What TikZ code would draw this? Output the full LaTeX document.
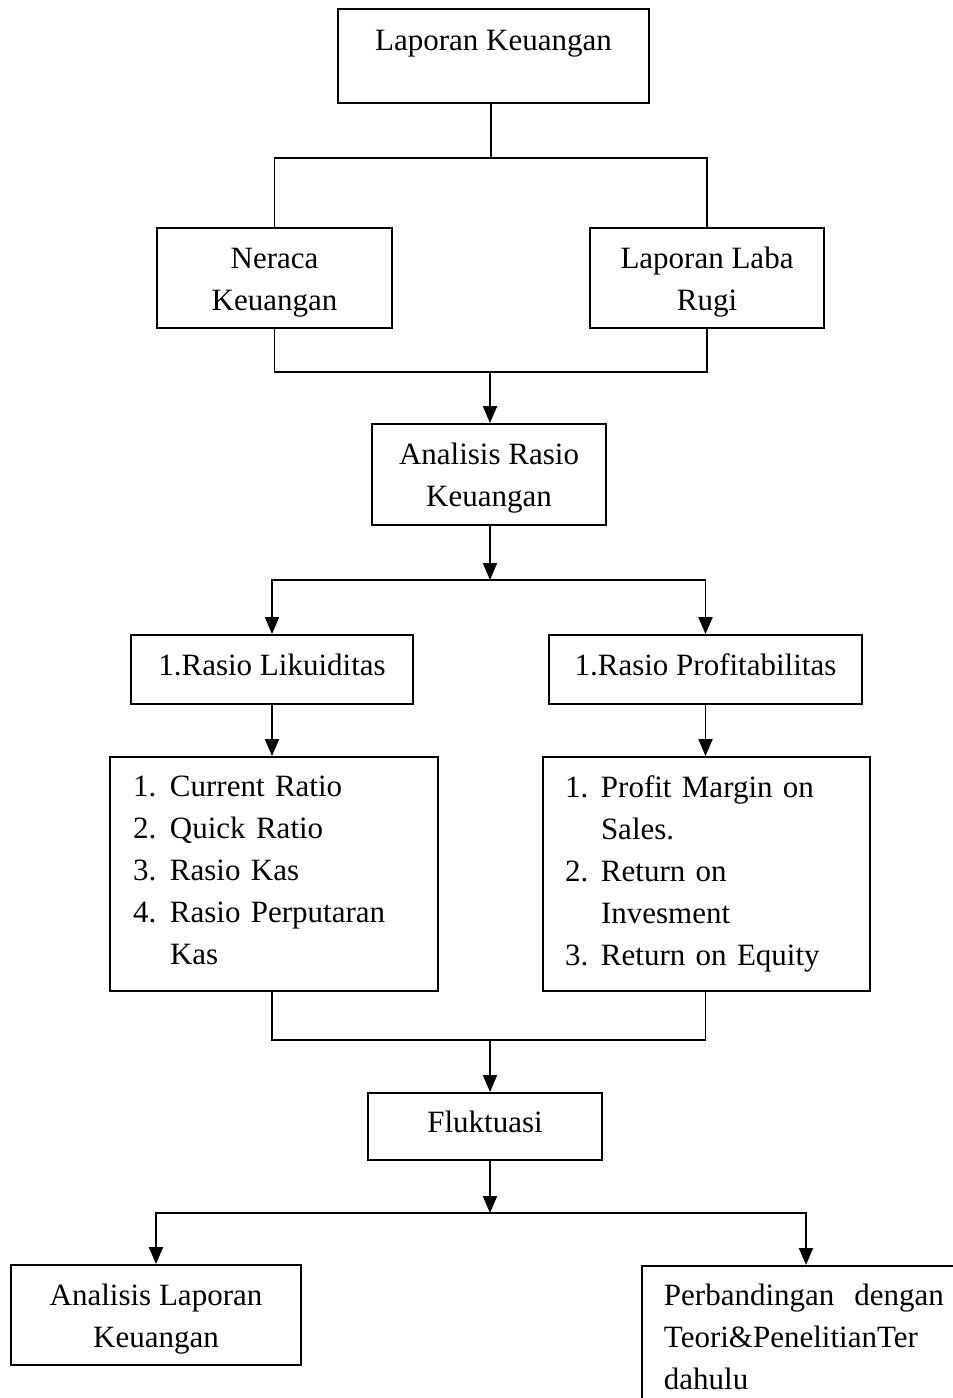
\documentclass[tikz,border=0pt]{standalone}
\usepackage{fontspec}
\setmainfont{Liberation Serif}
\usetikzlibrary{arrows.meta}
\newcommand{\toppad}{\rule{0pt}{29pt}}
\begin{document}
\begin{tikzpicture}[x=1pt,y=-1pt,
  box/.style={draw, line width=1.9pt, inner sep=0pt, align=center, font=\fontsize{31}{42}\selectfont},
  oneline/.style={text height=21pt, text depth=10pt},
  ln/.style={line width=1.9pt},
  arr/.style={ln, -{Triangle[width=14pt,length=17pt]}}]
\useasboundingbox (0,0) rectangle (953,1398);
\clip (0,0) rectangle (953,1398);
% nodes
\node[box, minimum width=311pt, minimum height=94pt, text height=22pt, text depth=34pt] (lk) at (493.5,56) {Laporan Keuangan};
\node[box, minimum width=235pt, minimum height=100pt] (ner) at (274.5,278) {\toppad Neraca\\Keuangan};
\node[box, minimum width=234pt, minimum height=100pt] (lab) at (707,278) {\toppad Laporan Laba\\Rugi};
\node[box, minimum width=234pt, minimum height=101pt] (ana) at (489,474.5) {\toppad Analisis Rasio\\Keuangan};
\node[box, oneline, minimum width=282pt, minimum height=69pt] (liq) at (272,669.5) {1.Rasio Likuiditas};
\node[box, oneline, minimum width=313pt, minimum height=69pt] (pro) at (705.5,669.5) {1.Rasio Profitabilitas};
\node[box, minimum height=234pt, text width=282pt, inner xsep=23pt, align=left] (ll) at (274,874)
  {\makebox[37pt][l]{1.}Current Ratio\\
   \makebox[37pt][l]{2.}Quick Ratio\\
   \makebox[37pt][l]{3.}Rasio Kas\\
   \makebox[37pt][l]{4.}Rasio Perputaran\\
   \hspace*{37pt}Kas\rule[-7pt]{0pt}{1pt}};
\node[box, minimum height=234pt, text width=283pt, inner xsep=22pt, align=left] (lr) at (706.5,874)
  {\makebox[36pt][l]{1.}Profit Margin on\\
   \hspace*{36pt}Sales.\\
   \makebox[36pt][l]{2.}Return on\\
   \hspace*{36pt}Invesment\\
   \makebox[36pt][l]{3.}Return on Equity};
\node[box, oneline, minimum width=234pt, minimum height=67pt] (fl) at (485,1126.5) {Fluktuasi};
\node[box, minimum width=290pt, minimum height=100pt] (al) at (156,1315) {\toppad Analisis Laporan\\Keuangan};
\node[box, anchor=north west, text width=280pt, inner xsep=22pt, inner ysep=18pt, align=left] (pb) at (641,1265)
  {\hbox to 280pt{Perbandingan\hfill dengan}\\Teori\&PenelitianTer\\dahulu};
% junction coordinates
\coordinate (s1) at (491,158);
\coordinate (m1) at (490,372);
\coordinate (s2) at (490,580);
\coordinate (m2) at (490,1040);
\coordinate (s3) at (490,1213);
\coordinate (pbin) at ([xshift=165pt]pb.north west);
% connectors
\draw[ln] (lk.south -| s1) -- (s1);
\draw[ln] (ner.north) |- (s1) -| (lab.north);
\draw[ln] (ner.south) |- (m1) -| (lab.south);
\draw[arr] (m1) -- (m1 |- ana.north);
\draw[arr] (ana.south -| s2) -- (s2);
\draw[arr] (s2) -| (liq.north);
\draw[arr] (s2) -| (pro.north);
\draw[arr] (liq.south) -- (liq.south |- ll.north);
\draw[arr] (pro.south) -- (pro.south |- lr.north);
\draw[ln] (ll.south -| liq.south) |- (m2) -| (lr.south -| pro.south);
\draw[arr] (m2) -- (m2 |- fl.north);
\draw[arr] (fl.south -| s3) -- (s3);
\draw[arr] (s3) -| (al.north);
\draw[arr] (s3) -| (pbin);
\end{tikzpicture}
\end{document}
